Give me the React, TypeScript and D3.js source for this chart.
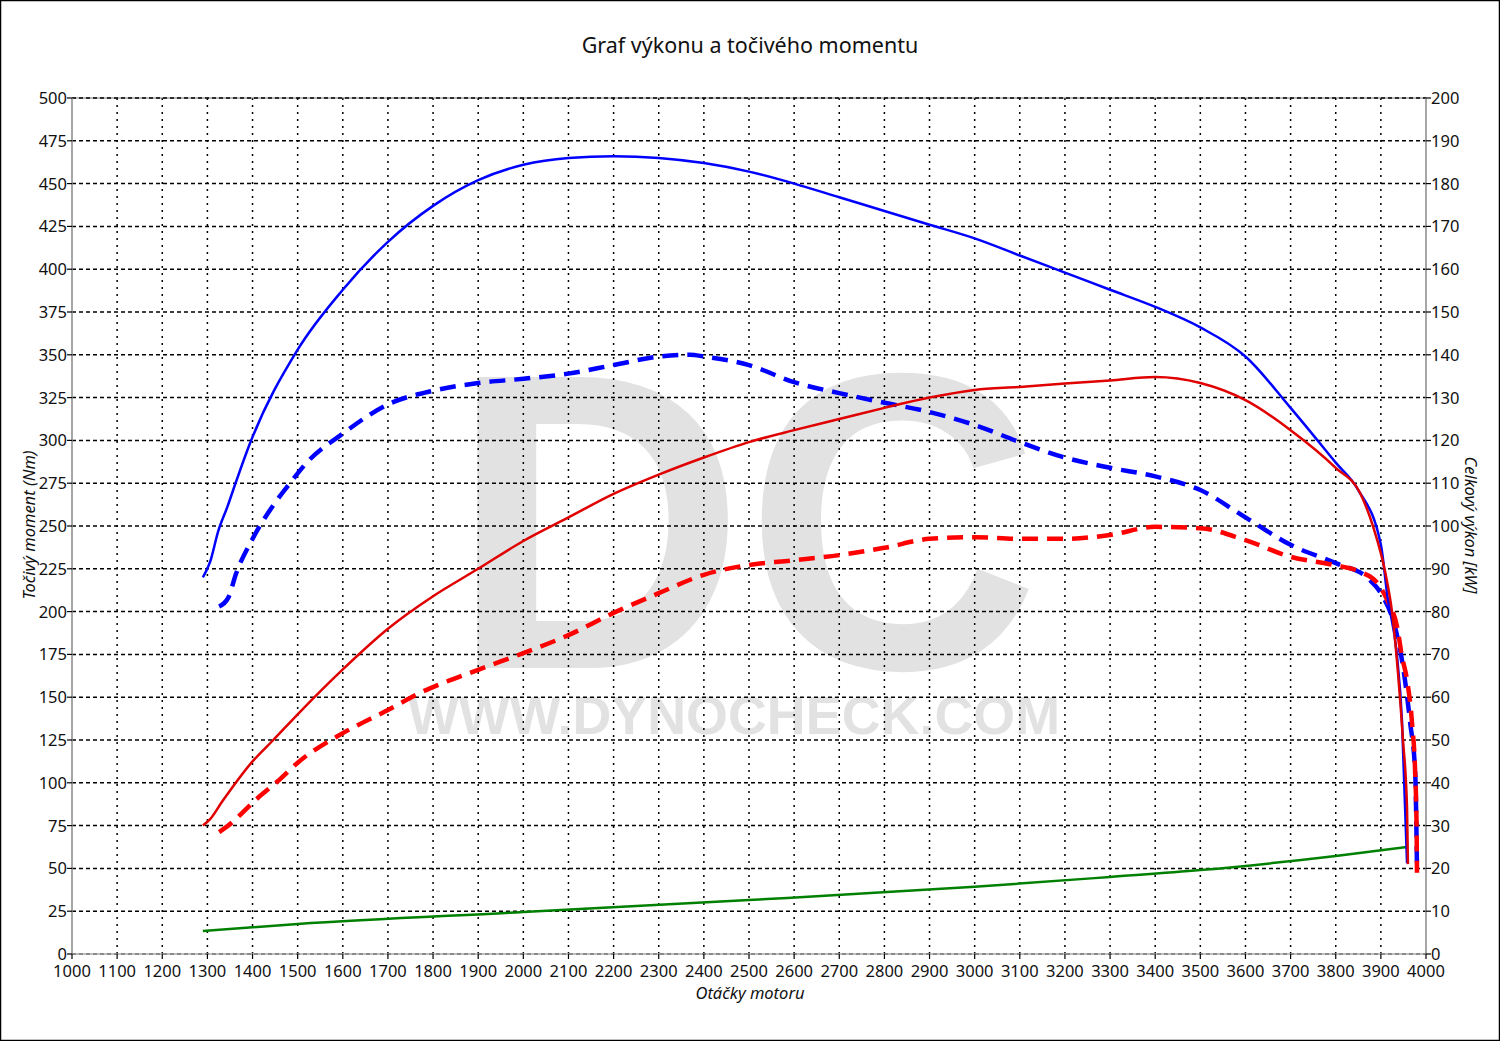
import React from "react";
import * as d3 from "d3";

const W = 1500, H = 1041;
const M = { left: 72, right: 1426, top: 98, bottom: 954 };

const title = "Graf výkonu a točivého momentu";
const xLabel = "Otáčky motoru";
const yLeftLabel = "Točivý moment (Nm)";
const yRightLabel = "Celkový výkon [kW]";

const xTicks = d3.range(1000, 4001, 100);
const yLeftTicks = d3.range(0, 501, 25);
const yRightTicks = d3.range(0, 201, 10);

// Torque tuned (Nm) – blue solid
const torqueTunedRpm = [1290, 1306, 1324, 1344, 1365, 1394, 1500, 1600, 1700, 1800, 1900, 2000, 2100, 2200, 2300, 2400, 2500, 2600, 2700, 2800, 2900, 3000, 3100, 3200, 3300, 3400, 3500, 3600, 3700, 3800, 3850, 3900, 3915, 3935, 3947, 3958];
const torqueTunedNm = [220, 229, 247, 261, 277, 298, 353, 388, 416, 437, 452, 461, 465, 466, 465, 462, 457, 450, 442, 434, 426, 418, 408, 398, 388, 378, 366, 349, 319, 287, 271, 239, 208, 176, 135, 53];

// Torque stock (Nm) – blue dashed
const torqueStockRpm = [1326, 1346, 1364, 1399, 1443, 1483, 1520, 1600, 1700, 1800, 1900, 2000, 2100, 2200, 2300, 2370, 2400, 2500, 2600, 2700, 2800, 2900, 3000, 3100, 3200, 3300, 3400, 3500, 3600, 3700, 3803, 3869, 3905, 3927, 3949, 3965, 3976, 3980];
const torqueStockNm = [203, 208, 222.5, 242, 261, 275, 287, 304, 321, 329, 333.5, 336, 339, 344, 349, 350, 349, 344, 334, 327.6, 322, 316.6, 309, 299, 290, 284, 279, 271, 255, 239, 228, 220, 208.5, 195, 168, 135, 106, 51];

// Power tuned (kW) – red solid
const powerTunedRpm = [1290, 1306, 1332, 1400, 1446, 1500, 1600, 1700, 1800, 1900, 2000, 2100, 2200, 2300, 2400, 2500, 2600, 2700, 2800, 2900, 3000, 3100, 3200, 3300, 3400, 3500, 3600, 3700, 3800, 3854, 3883, 3910, 3925, 3938, 3949, 3958, 3960];
const powerTunedKw = [30, 31.5, 35.5, 45, 50, 56, 66.5, 76, 83.6, 90, 96.5, 102, 107.5, 112, 116, 119.6, 122.4, 125, 127.6, 130, 131.8, 132.5, 133.3, 134, 134.8, 133.4, 129.4, 122.4, 113.6, 107.7, 99.8, 89, 79.7, 65.6, 50, 34, 21];

// Power stock (kW) – red dashed
const powerStockRpm = [1326, 1346, 1411, 1455, 1500, 1600, 1700, 1771, 1900, 2000, 2100, 2200, 2300, 2400, 2500, 2600, 2700, 2800, 2900, 3000, 3100, 3200, 3300, 3400, 3500, 3600, 3700, 3795, 3854, 3892, 3914, 3936, 3947, 3958, 3969, 3976, 3979, 3980];
const powerStockKw = [28.5, 30, 36.4, 40.3, 44.7, 51.6, 57, 61, 66.4, 70.3, 74.5, 79.7, 84.3, 88.6, 90.9, 92, 93.2, 94.9, 97, 97.4, 97, 97, 97.9, 99.8, 99.5, 96.7, 92.8, 90.9, 89.3, 86.7, 82.7, 76.4, 69.4, 64, 54, 42.3, 30.6, 19];

// Loss power (kW) – green
const lossRpm = [1290, 1500, 2000, 2500, 3000, 3300, 3500, 3800, 3958];
const lossKw = [5.4, 7.0, 9.8, 12.6, 15.7, 18, 19.6, 22.9, 25];

const FONT = "'Noto Sans', 'Open Sans', sans-serif";

export default function App() {
  const x = d3.scaleLinear().domain([1000, 4000]).range([M.left, M.right]);
  const yL = d3.scaleLinear().domain([0, 500]).range([M.bottom, M.top]);
  const yR = d3.scaleLinear().domain([0, 200]).range([M.bottom, M.top]);

  const mk = (rpm: number[], vals: number[], y: d3.ScaleLinear<number, number>) =>
    d3.line<number>().x((_, i) => x(rpm[i])).y((v) => y(v)).curve(d3.curveMonotoneX)(vals) || "";

  return (
    <svg width={W} height={H} style={{ position: "absolute", left: 0, top: 0, background: "#fff" }} fontFamily={FONT}>
      <rect x={0.5} y={0.5} width={W - 1} height={H - 1} fill="#fff" stroke="#000" strokeWidth={1.5} />
      <text x={750} y={53} textAnchor="middle" fontSize={21.5} fill="#111">{title}</text>

      {/* watermark */}
      <text x={450} y={668} fontSize={423} fontWeight="bold" fill="#e2e2e2" fontFamily="'Liberation Sans', Arial, sans-serif" textLength={590} lengthAdjust="spacingAndGlyphs">DC</text>
      <text x={408} y={734} fontSize={53} fontWeight="bold" fill="#e2e2e2" fontFamily="'Liberation Sans', Arial, sans-serif" textLength={652} lengthAdjust="spacingAndGlyphs">WWW.DYNOCHECK.COM</text>

      {/* grid */}
      {xTicks.slice(1, -1).map((t) => (
        <line key={"gx" + t} x1={x(t)} x2={x(t)} y1={M.top} y2={M.bottom} stroke="#000" strokeWidth={1.5} strokeDasharray="2,5" />
      ))}
      {yLeftTicks.slice(1, -1).map((t) => (
        <line key={"gy" + t} x1={M.left} x2={M.right} y1={yL(t)} y2={yL(t)} stroke="#000" strokeWidth={1.5} strokeDasharray="4,3" />
      ))}
      <line x1={M.left} x2={M.right} y1={M.top} y2={M.top} stroke="#777" strokeWidth={1} />
      <line x1={M.left} x2={M.right} y1={M.top} y2={M.top} stroke="#000" strokeWidth={1.5} strokeDasharray="4,3" />

      {/* axes */}
      <line x1={M.left} x2={M.left} y1={M.top} y2={M.bottom} stroke="#888" strokeWidth={1.5} />
      <line x1={M.right} x2={M.right} y1={M.top} y2={M.bottom} stroke="#888" strokeWidth={1.5} />
      <line x1={M.left} x2={M.right} y1={M.bottom} y2={M.bottom} stroke="#aaa" strokeWidth={1.5} />
      <line x1={M.left} x2={M.right} y1={M.bottom} y2={M.bottom} stroke="#555" strokeWidth={1} strokeDasharray="4,3" />

      {yLeftTicks.map((t) => (
        <g key={"yl" + t}>
          <line x1={M.left - 5} x2={M.left} y1={yL(t)} y2={yL(t)} stroke="#000" strokeWidth={1.2} />
          <text x={M.left - 5} y={yL(t) + 6} textAnchor="end" fontSize={16.5} fill="#111">{t}</text>
        </g>
      ))}
      {yRightTicks.map((t) => (
        <g key={"yr" + t}>
          <line x1={M.right} x2={M.right + 5} y1={yR(t)} y2={yR(t)} stroke="#000" strokeWidth={1.2} />
          <text x={M.right + 5} y={yR(t) + 6} textAnchor="start" fontSize={16.5} fill="#111">{t}</text>
        </g>
      ))}
      {xTicks.map((t) => (
        <g key={"xt" + t}>
          <line x1={x(t)} x2={x(t)} y1={M.bottom} y2={M.bottom + 5} stroke="#000" strokeWidth={1.2} />
          <text x={x(t)} y={M.bottom + 23} textAnchor="middle" fontSize={16.5} fill="#111">{t}</text>
        </g>
      ))}

      <text x={750} y={999} textAnchor="middle" fontSize={16.5} fontStyle="italic" fill="#111">{xLabel}</text>
      <text transform="translate(35,525) rotate(-90)" textAnchor="middle" fontSize={16.5} fontStyle="italic" fill="#111">{yLeftLabel}</text>
      <text transform="translate(1465,525) rotate(90)" textAnchor="middle" fontSize={16.5} fontStyle="italic" fill="#111">{yRightLabel}</text>

      {/* curves */}
      <path d={mk(lossRpm, lossKw, yR)} fill="none" stroke="#008000" strokeWidth={2.5} />
      <path d={mk(torqueStockRpm, torqueStockNm, yL)} fill="none" stroke="#0000ff" strokeWidth={4.5} strokeDasharray="16,9" />
      <path d={mk(powerStockRpm, powerStockKw, yR)} fill="none" stroke="#ff0000" strokeWidth={4.5} strokeDasharray="16,9" />
      <path d={mk(torqueTunedRpm, torqueTunedNm, yL)} fill="none" stroke="#0000ff" strokeWidth={2.5} />
      <path d={mk(powerTunedRpm, powerTunedKw, yR)} fill="none" stroke="#e00000" strokeWidth={2.5} />
    </svg>
  );
}
